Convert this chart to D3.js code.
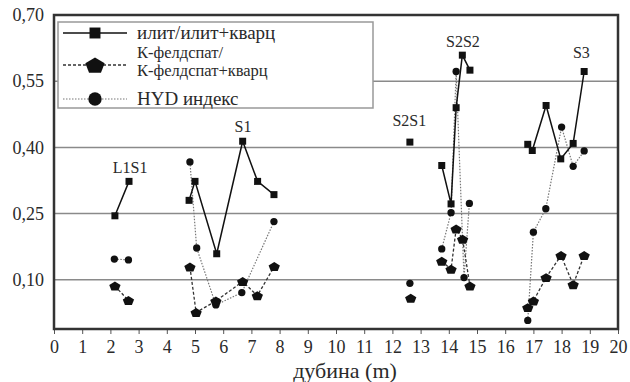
<!DOCTYPE html>
<html><head><meta charset="utf-8">
<script src="https://cdn.jsdelivr.net/npm/d3@7"></script>
<style>body{margin:0;background:#fff}svg{display:block}svg text{font-family:"Liberation Serif","Times New Roman","DejaVu Serif",serif !important;fill:#2a2a2a}</style>
</head><body>
<svg id="c" width="630" height="382"></svg>
<script>
// Data (null = break between profile sections)
const illiteDepth = [2.16, 2.66, null, 4.79, 5.00, 5.77, 6.69, 7.22, 7.80, null, 12.62, null, 13.75, 14.08, 14.26, 14.48, 14.75, null, 16.80, 16.96, 17.45, 17.97, 18.41, 18.80];
const illiteValue = [0.245, 0.323, null, 0.280, 0.323, 0.159, 0.414, 0.323, 0.293, null, 0.412, null, 0.359, 0.272, 0.490, 0.609, 0.575, null, 0.407, 0.393, 0.495, 0.374, 0.409, 0.572];
const kfeldDepth = [2.16, 2.64, null, 4.82, 5.04, 5.74, 6.69, 7.21, 7.81, null, 12.65, null, 13.75, 14.08, 14.26, 14.49, 14.75, null, 16.80, 17.00, 17.45, 17.98, 18.41, 18.80];
const kfeldValue = [0.086, 0.053, null, 0.129, 0.026, 0.052, 0.096, 0.064, 0.130, null, 0.058, null, 0.142, 0.124, 0.215, 0.192, 0.086, null, 0.037, 0.052, 0.105, 0.155, 0.089, 0.155];
const hydDepth = [2.14, 2.64, null, 4.82, 5.06, 5.74, 6.66, 7.80, null, 12.62, null, 13.75, 14.08, 14.26, 14.54, 14.73, null, 16.80, 17.00, 17.44, 18.00, 18.41, 18.80];
const hydValue = [0.147, 0.145, null, 0.367, 0.172, 0.043, 0.071, 0.232, null, 0.092, null, 0.170, 0.252, 0.572, 0.105, 0.273, null, 0.008, 0.208, 0.261, 0.446, 0.357, 0.392];

const sectionLabels = ["L1S1", "S1", "S2S1", "S2S2", "S3"];
const sectionLabelDepth = [2.7, 6.7, 12.6, 14.5, 18.7];
const sectionLabelValue = [0.342, 0.436, 0.448, 0.627, 0.602];

const xTicks = d3.range(0, 21);
const yTicks = [0.10, 0.25, 0.40, 0.55, 0.70];
const yTickLabels = ["0,10", "0,25", "0,40", "0,55", "0,70"];
const legendLabels = [["илит/илит+кварц"], ["К-фелдспат/", "К-фелдспат+кварц"], ["HYD индекс"]];
const xTitle = "дубина (m)";

const svg = d3.select("#c");
const L = 54, R = 618, T = 15, B = 329;
const x = d3.scaleLinear().domain([0, 20]).range([L, R]);
const y = d3.scaleLinear().domain([-0.0115, 0.70]).range([B, T]);

// grid
svg.append("g").selectAll("line").data(yTicks.slice(0, 4)).join("line")
  .attr("x1", L).attr("x2", R).attr("y1", d => y(d)).attr("y2", d => y(d))
  .attr("stroke", "#8a8a8a").attr("stroke-width", 1.5);

// x axis
const xa = svg.append("g").attr("transform", `translate(0,${B})`)
  .call(d3.axisBottom(x).tickValues(xTicks).tickSize(5).tickSizeOuter(0).tickPadding(6).tickFormat(d3.format("d")));
xa.select(".domain").remove();
xa.selectAll("line").attr("stroke", "#555").attr("stroke-width", 1);
xa.selectAll("text").attr("font-size", 18).attr("fill", "#333");

// y axis labels
const ya = svg.append("g").attr("transform", `translate(${L},0)`)
  .call(d3.axisLeft(y).tickValues(yTicks).tickSize(0).tickPadding(10).tickFormat((d, i) => yTickLabels[i]));
ya.select(".domain").remove();
ya.selectAll("text").attr("font-size", 18).attr("fill", "#333");

// frame
svg.append("rect").attr("x", L).attr("y", T).attr("width", R - L).attr("height", B - T)
  .attr("fill", "none").attr("stroke", "#333").attr("stroke-width", 2.5);

// pentagon symbol
const pentagon = {
  draw(ctx, size) {
    const r = Math.sqrt(size / 2.3776);
    for (let i = 0; i < 5; i++) {
      const a = -Math.PI / 2 + i * 2 * Math.PI / 5;
      const px = r * Math.cos(a) * 1.08, py = (r * Math.sin(a) + r * 0.1) * 0.9;
      if (i === 0) ctx.moveTo(px, py); else ctx.lineTo(px, py);
    }
    ctx.closePath();
  }
};

const series = [
  { depth: illiteDepth, value: illiteValue, stroke: "#111", width: 1.5, dash: null, sym: d3.symbolSquare, size: 49, lsize: 120 },
  { depth: kfeldDepth, value: kfeldValue, stroke: "#333", width: 1.3, dash: "3,2", sym: pentagon, size: 72, lsize: 210 },
  { depth: hydDepth, value: hydValue, stroke: "#777", width: 1.2, dash: "1.5,1.5", sym: d3.symbolCircle, size: 42, lsize: 140 }
];

const plot = svg.append("g");
[2, 1, 0].forEach(si => {
  const s = series[si];
  const pts = s.depth.map((d, i) => [d, s.value[i]]);
  const line = d3.line().defined(p => p[0] != null && p[1] != null).x(p => x(p[0])).y(p => y(p[1]));
  plot.append("path").attr("d", line(pts)).attr("fill", "none")
    .attr("stroke", s.stroke).attr("stroke-width", s.width).attr("stroke-dasharray", s.dash);
});
[2, 1, 0].forEach(si => {
  const s = series[si];
  const pts = s.depth.map((d, i) => [d, s.value[i]]).filter(p => p[0] != null);
  plot.append("g").selectAll("path").data(pts).join("path")
    .attr("transform", p => `translate(${x(p[0])},${y(p[1])})`)
    .attr("d", d3.symbol().type(s.sym).size(s.size)).attr("fill", "#111");
});

// section labels
svg.append("g").selectAll("text").data(sectionLabels).join("text")
  .attr("x", (d, i) => x(sectionLabelDepth[i])).attr("y", (d, i) => y(sectionLabelValue[i]))
  .attr("text-anchor", "middle").attr("font-size", 16).attr("fill", "#333").text(d => d);

// legend
const lg = svg.append("g");
lg.append("rect").attr("x", 58).attr("y", 22).attr("width", 315).attr("height", 86)
  .attr("fill", "#fff").attr("stroke", "#999").attr("stroke-width", 1.5);
const legY = [33, 65, 99];
legendLabels.forEach((lab, i) => {
  const s = series[i];
  lg.append("line").attr("x1", 63).attr("x2", 127).attr("y1", legY[i]).attr("y2", legY[i])
    .attr("stroke", s.stroke).attr("stroke-width", s.width).attr("stroke-dasharray", s.dash);
  lg.append("path").attr("transform", `translate(95,${legY[i]})`)
    .attr("d", d3.symbol().type(s.sym).size(s.lsize)).attr("fill", "#111");
  if (lab.length === 1) {
    lg.append("text").attr("x", 137).attr("y", legY[i] + 6).attr("font-size", 19).attr("fill", "#333").text(lab[0]);
  } else {
    lab.forEach((part, j) => {
      lg.append("text").attr("x", 137).attr("y", legY[i] - 7 + j * 18)
        .attr("font-size", 16.5).attr("fill", "#333").text(part);
    });
  }
});

// x title
svg.append("text").attr("x", 345).attr("y", 378).attr("text-anchor", "middle")
  .attr("font-size", 22).attr("fill", "#333").text(xTitle);
</script>
</body></html>
